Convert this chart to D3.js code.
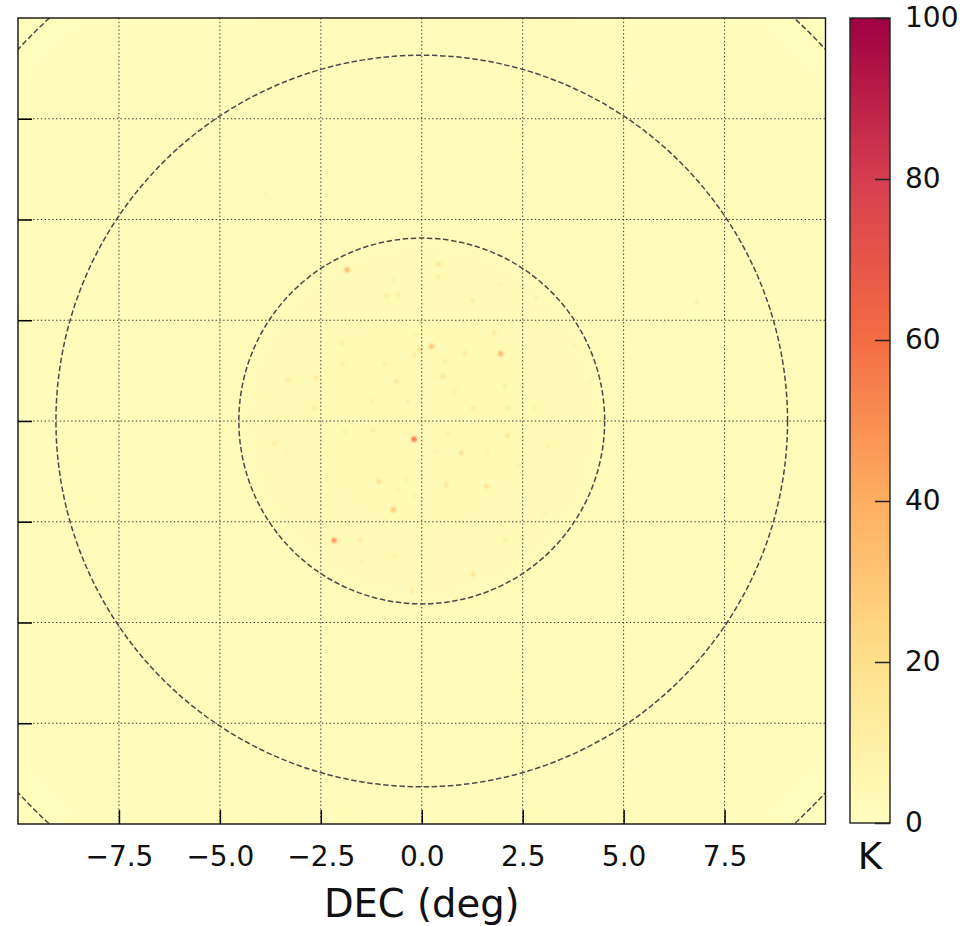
<!DOCTYPE html>
<html>
<head>
<meta charset="utf-8">
<script src="https://cdn.jsdelivr.net/npm/d3@7"></script>
<style>
  html, body { margin: 0; padding: 0; background: #fff; }
  svg { display: block; font-family: "DejaVu Sans", sans-serif; }
</style>
</head>
<body>
<svg id="chart" width="966" height="926"></svg>
<script>
// Axis ticks (degrees) and colour-bar ticks (K)
const xTicks = [-7.5, -5.0, -2.5, 0.0, 2.5, 5.0, 7.5];
const yTicks = [-7.5, -5.0, -2.5, 0.0, 2.5, 5.0, 7.5];
const cbarTicks = [0, 20, 40, 60, 80, 100];

// Footprint rings (radius in degrees)
const ringRadii = [4.53, 9.06, 13.59];

// Smooth background level vs. radius from field centre
const bgRadius = [0, 2.0, 4.0, 4.6, 5.5, 14.2];
const bgLevel  = [3.8, 3.5, 3.1, 2.4, 1.8, 1.6];

// Compact sources: position (deg) and brightness temperature (K)
const srcX = [-1.85, 0.42, 0.40, -0.69, -0.59, -0.87, 1.25, 1.93, 2.84, -1.98,
              0.24, -0.05, -0.17, 1.79, 1.95, 1.07, 0.53, -0.63, -2.61, -3.31,
              -1.95, -0.92, -0.13, -2.65, 1.27, 2.06, 2.14, -0.34, -1.25, 0.57,
              3.79, 4.16, -3.56, -1.58, 0.82, 2.80,
              -0.19, -2.17, -0.71, 0.98, 1.60, 0.61, -1.07, 1.27, -1.51, 2.12,
              3.13, -3.64, -1.91, -1.21, 0.65, -0.59, -0.17, -1.49, -0.24, 2.06,
              1.64, 0.36, -3.35, 3.05, -0.67, -0.38, 2.55, 2.39,
              6.82, -3.89, 8.00];
const srcY = [3.75, 3.89, 3.58, 3.50, 3.13, 3.11, 2.98, 3.38, 3.05, 1.93,
              1.85, 1.77, 1.64, 2.18, 1.67, 1.68, 1.11, 0.98, 1.08, 1.02,
              1.40, 1.40, 2.14, 0.32, 0.32, 0.86, 0.32, 0.49, 0.49, 1.48,
              1.85, 0.98, 0.07, 2.39, 0.73, 0.32,
              -0.45, -2.96, -2.20, -0.79, -1.62, -1.58, -1.50, -3.81, -2.94, -0.36,
              -0.61, -0.55, -0.26, -0.22, -0.30, -1.70, -1.87, -3.48, -4.22, -2.94,
              -0.79, -0.75, -0.79, -2.32, -3.36, -1.45, -1.74, -1.13,
              2.95, 5.61, -1.53];
const srcK = [35, 18, 12, 10, 14, 12, 12, 10, 10, 12,
              30, 20, 15, 15, 35, 14, 20, 18, 15, 12,
              10, 12, 10, 12, 14, 12, 14, 14, 10, 12,
              8, 8, 10, 10, 12, 10,
              60, 50, 30, 22, 20, 18, 22, 18, 14, 20,
              10, 12, 10, 12, 12, 10, 10, 10, 14, 10,
              10, 10, 8, 8, 9, 12, 9, 9,
              12, 8, 6];

const svg = d3.select("#chart");

const plot = { left: 18, right: 825.5, top: 18, bottom: 824 };
const cbar = { left: 850, right: 890, top: 18, bottom: 823 };

const x = d3.scaleLinear().domain([-10, 10]).range([plot.left, plot.right]);
const y = d3.scaleLinear().domain([-10, 10]).range([plot.bottom, plot.top]);
const kScale = d3.scaleLinear().domain([0, 100]).range([cbar.bottom, cbar.top]);

// Spectral_r (linear segments), upper half: 0 K pale yellow -> 100 K crimson
const spectral = d3.piecewise(d3.interpolateRgb, d3.schemeSpectral[11]);
const color = d3.scaleSequential(v => spectral(0.5 - 0.5 * v)).domain([0, 100]);

const defs = svg.append("defs");

defs.append("clipPath").attr("id", "plotClip")
  .append("rect")
  .attr("x", plot.left).attr("y", plot.top)
  .attr("width", plot.right - plot.left).attr("height", plot.bottom - plot.top);

// Radial background gradient built from the radial profile
const pxPerDeg = x(1) - x(0);
const rMax = bgRadius[bgRadius.length - 1];
const radGrad = defs.append("radialGradient").attr("id", "bgGrad")
  .attr("gradientUnits", "userSpaceOnUse")
  .attr("cx", x(0)).attr("cy", y(0)).attr("r", rMax * pxPerDeg);
bgRadius.forEach((r, i) => {
  radGrad.append("stop").attr("offset", r / rMax).attr("stop-color", color(bgLevel[i]));
});

defs.append("filter").attr("id", "soft")
  .attr("x", "-100%").attr("y", "-100%").attr("width", "300%").attr("height", "300%")
  .append("feGaussianBlur").attr("stdDeviation", 1.1);

const map = svg.append("g").attr("clip-path", "url(#plotClip)");

map.append("rect")
  .attr("x", plot.left).attr("y", plot.top)
  .attr("width", plot.right - plot.left).attr("height", plot.bottom - plot.top)
  .attr("fill", "url(#bgGrad)");

// Sources
const sources = srcX.map((sx, i) => ({ x: sx, y: srcY[i], k: srcK[i] }));
map.append("g").attr("filter", "url(#soft)")
  .selectAll("circle").data(sources).join("circle")
  .attr("cx", d => x(d.x)).attr("cy", d => y(d.y))
  .attr("r", d => d.k >= 30 ? 2.6 : 2.3)
  .attr("fill", d => color(d.k));

// Grid lines
const grid = map.append("g")
  .attr("stroke", "#3a3a3a").attr("stroke-width", 1).attr("stroke-dasharray", "1.4,2.4");
grid.selectAll("line.gx").data(xTicks).join("line").attr("class", "gx")
  .attr("x1", d => x(d)).attr("x2", d => x(d))
  .attr("y1", plot.top).attr("y2", plot.bottom);
grid.selectAll("line.gy").data(yTicks).join("line").attr("class", "gy")
  .attr("y1", d => y(d)).attr("y2", d => y(d))
  .attr("x1", plot.left).attr("x2", plot.right);

// Footprint rings
map.append("g").selectAll("circle").data(ringRadii).join("circle")
  .attr("cx", x(0)).attr("cy", y(0))
  .attr("r", d => d * pxPerDeg)
  .attr("fill", "none")
  .attr("stroke", "#4a4a4a")
  .attr("stroke-width", 1.5)
  .attr("stroke-dasharray", "5.5,2.6");

// Axes (inward ticks)
const xAxis = svg.append("g").attr("transform", `translate(0,${plot.bottom})`)
  .call(d3.axisBottom(x).tickValues(xTicks).tickSizeInner(-14).tickSizeOuter(0)
    .tickPadding(22).tickFormat(d => d3.format(".1f")(d).replace("-", "\u2212")));
xAxis.select(".domain").remove();
xAxis.selectAll(".tick line").attr("stroke", "#000").attr("stroke-width", 1.5);
xAxis.selectAll(".tick text").attr("font-size", 28).attr("fill", "#111")
  .attr("font-family", "DejaVu Sans");

const yAxis = svg.append("g").attr("transform", `translate(${plot.left},0)`)
  .call(d3.axisLeft(y).tickValues(yTicks).tickSizeInner(-14).tickSizeOuter(0).tickFormat(""));
yAxis.select(".domain").remove();
yAxis.selectAll(".tick line").attr("stroke", "#000").attr("stroke-width", 1.5);

// Plot frame
svg.append("rect")
  .attr("x", plot.left).attr("y", plot.top)
  .attr("width", plot.right - plot.left).attr("height", plot.bottom - plot.top)
  .attr("fill", "none").attr("stroke", "#111").attr("stroke-width", 1.4);

svg.append("text")
  .attr("x", x(0)).attr("y", 917)
  .attr("text-anchor", "middle").attr("font-size", 38.5).attr("fill", "#111")
  .text("DEC (deg)");

// Colour bar
const linGrad = defs.append("linearGradient").attr("id", "cbarGrad")
  .attr("x1", 0).attr("y1", 1).attr("x2", 0).attr("y2", 0);
d3.range(0, 101, 5).forEach(v => {
  linGrad.append("stop").attr("offset", v / 100).attr("stop-color", color(v));
});
svg.append("rect")
  .attr("x", cbar.left).attr("y", cbar.top)
  .attr("width", cbar.right - cbar.left).attr("height", cbar.bottom - cbar.top)
  .attr("fill", "url(#cbarGrad)")
  .attr("stroke", "#222").attr("stroke-width", 1.4);

const cAxis = svg.append("g").attr("transform", `translate(${cbar.right},0)`)
  .call(d3.axisRight(kScale).tickValues(cbarTicks).tickSizeInner(-15).tickSizeOuter(0)
    .tickPadding(15).tickFormat(d3.format("d")));
cAxis.select(".domain").remove();
cAxis.selectAll(".tick line").attr("stroke", "#222").attr("stroke-width", 1.5);
cAxis.selectAll(".tick text").attr("font-size", 28).attr("fill", "#111")
  .attr("font-family", "DejaVu Sans");

svg.append("text")
  .attr("x", (cbar.left + cbar.right) / 2).attr("y", 869)
  .attr("text-anchor", "middle").attr("font-size", 37).attr("fill", "#111")
  .text("K");
</script>
</body>
</html>
